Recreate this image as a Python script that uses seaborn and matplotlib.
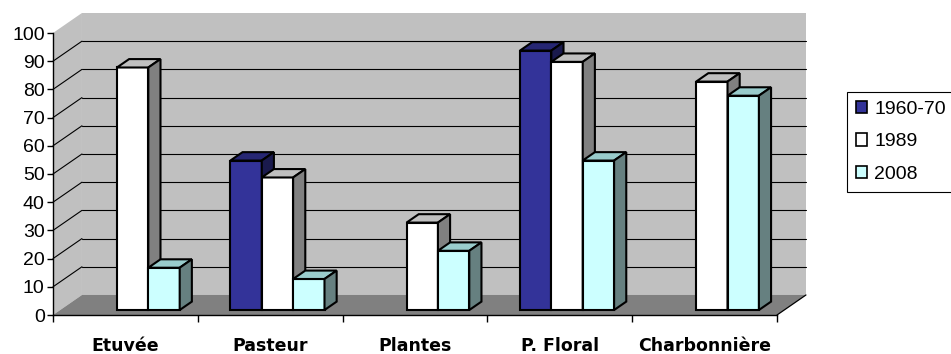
import numpy as np
import pandas as pd
import matplotlib
matplotlib.use("Agg")
import matplotlib.pyplot as plt
from matplotlib.patches import Polygon, Patch
from matplotlib.transforms import Affine2D
import seaborn as sns

# Data
sites = ["Etuvée", "Pasteur", "Plantes", "P. Floral", "Charbonnière"]
periods = ["1960-70", "1989", "2008"]
v_1960_70 = [np.nan, 53, np.nan, 92, np.nan]
v_1989 = [86, 47, 31, 88, 81]
v_2008 = [15, 11, 21, 53, 76]
y_ticks = list(range(0, 101, 10))

front_colors = {"1960-70": "#333399", "1989": "#FFFFFF", "2008": "#CCFFFF"}
top_colors = {"1960-70": "#262673", "1989": "#C0C0C0", "2008": "#99CCCC"}
side_colors = {"1960-70": "#1A1A4D", "1989": "#808080", "2008": "#668080"}

df = pd.DataFrame({
    "site": sites * 3,
    "period": [p for p in periods for _ in sites],
    "value": v_1960_70 + v_1989 + v_2008,
})

sns.set_style("white")
plt.rcParams["font.family"] = ["Liberation Sans", "DejaVu Sans"]
plt.rcParams["text.color"] = "black"
plt.rcParams["xtick.color"] = "black"
plt.rcParams["ytick.color"] = "black"

fig = plt.figure(figsize=(9.51, 3.54), dpi=100)
ax = fig.add_axes([53 / 951, 39 / 354, 724 / 951, 282 / 354])
ax.set_facecolor("none")

sns.barplot(data=df, x="site", y="value", hue="period", order=sites,
            hue_order=periods, palette=front_colors, saturation=1,
            width=0.65, errorbar=None, edgecolor="black", linewidth=1.5,
            ax=ax, legend=False)

ax.set_xlim(-0.5, len(sites) - 0.5)
ax.set_ylim(0, 100)

# depth of the box (data units) and placement of the bars inside it
DX, DY = 0.2, 7.1
BX, BY = 0.05, 1.77       # bar front face offset
SX, SY = 0.084, 2.98      # bar thickness in depth
x0, x1 = -0.5, len(sites) - 0.5

# walls and floor
ax.add_patch(Polygon([(x0 + DX, DY), (x1 + DX, DY), (x1 + DX, 100 + DY),
                      (x0 + DX, 100 + DY)], closed=True, facecolor="#C0C0C0",
                     edgecolor="none", zorder=0.5, clip_on=False))
ax.add_patch(Polygon([(x0, 0), (x0 + DX, DY), (x0 + DX, 100 + DY), (x0, 100)],
                     closed=True, facecolor="#C0C0C0", edgecolor="none",
                     zorder=0.5, clip_on=False))
ax.add_patch(Polygon([(x0, 0), (x1, 0), (x1 + DX, DY), (x0 + DX, DY)],
                     closed=True, facecolor="#808080", edgecolor="none",
                     zorder=0.55, clip_on=False))
ax.plot([x1, x1 + DX], [0, DY], color="black", lw=0.9, zorder=0.6,
        clip_on=False)
for v in y_ticks[1:-1]:
    ax.plot([x0 + DX, x1 + DX], [v + DY, v + DY], color="black", lw=0.8,
            zorder=0.6, clip_on=False)
    ax.plot([x0, x0 + DX], [v, v + DY], color="black", lw=0.8, zorder=0.6,
            clip_on=False)

# give each bar a top and a side face
shift = Affine2D().translate(BX, BY) + ax.transData
bars = []
for container, period in zip(ax.containers, periods):
    for p in container:
        h = p.get_height()
        if np.isfinite(h) and h > 0:
            bars.append((p, period))
bars.sort(key=lambda t: t[0].get_x())
for i, (p, period) in enumerate(bars):
    xa, w, h = p.get_x(), p.get_width(), p.get_height()
    z = 3 + i * 0.1
    p.set_transform(shift)
    p.set_zorder(z)
    p.set_clip_on(False)
    top = Polygon([(xa, h), (xa + w, h), (xa + w + SX, h + SY), (xa + SX, h + SY)],
                  closed=True, facecolor=top_colors[period], edgecolor="black",
                  lw=1.5, joinstyle="miter", transform=shift, zorder=z,
                  clip_on=False)
    side = Polygon([(xa + w, 0), (xa + w + SX, SY), (xa + w + SX, h + SY),
                    (xa + w, h)], closed=True, facecolor=side_colors[period],
                   edgecolor="black", lw=1.5, joinstyle="miter",
                   transform=shift, zorder=z, clip_on=False)
    ax.add_patch(top)
    ax.add_patch(side)

# axes
for s in ("top", "right"):
    ax.spines[s].set_visible(False)
for s in ("left", "bottom"):
    ax.spines[s].set_color("black")
    ax.spines[s].set_linewidth(1.0)
ax.set_yticks(y_ticks)
ax.tick_params(axis="y", which="major", direction="out", length=4, width=1,
               color="black", labelcolor="black", labelsize=14, pad=2,
               left=True)
ax.set_xticks(range(len(sites)))
ax.set_xticklabels(sites, fontfamily="DejaVu Sans", fontweight="bold",
                   fontsize=12.5, color="black")
ax.tick_params(axis="x", which="major", length=0, pad=16)
ax.set_xticks(np.arange(-0.5, len(sites)), minor=True)
ax.tick_params(axis="x", which="minor", direction="out", length=5, width=1,
               color="black", bottom=True)
ax.set_xlabel("")
ax.set_ylabel("")

handles = [Patch(facecolor=front_colors[k], edgecolor="black", lw=1.2, label=k)
           for k in periods]
leg = fig.legend(handles=handles, loc="upper left",
                 bbox_to_anchor=(847 / 951, 1 - 92 / 354), fontsize=14,
                 frameon=True, fancybox=False, framealpha=1,
                 edgecolor="black", handlelength=0.6, handleheight=0.6,
                 handletextpad=0.35, labelspacing=0.8, borderpad=0.45,
                 borderaxespad=0)
leg.get_frame().set_linewidth(0.8)
for t in leg.get_texts():
    t.set_color("black")

fig.savefig("out.png", dpi=100)
